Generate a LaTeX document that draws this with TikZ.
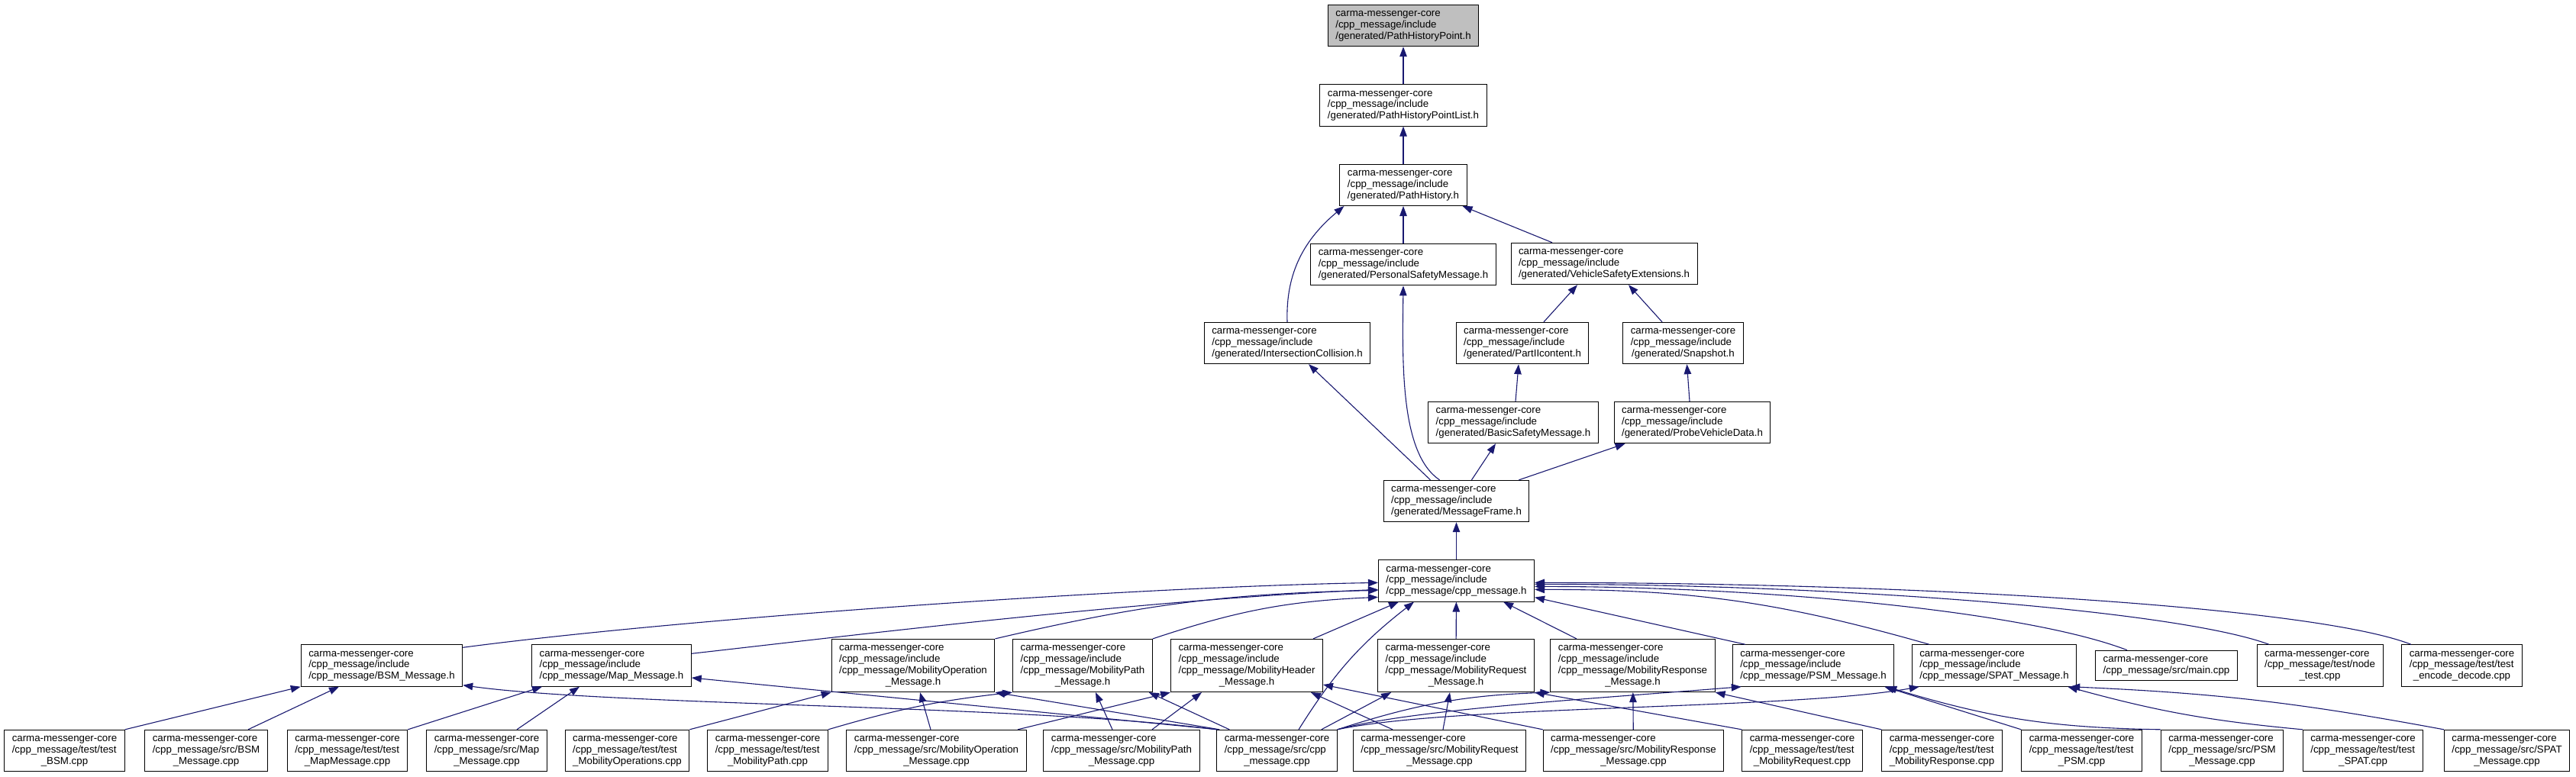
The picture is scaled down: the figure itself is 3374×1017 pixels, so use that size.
\documentclass[tikz,border=0pt]{standalone}
\usepackage{fontspec}
\setmainfont{Liberation Sans}
\usepackage{tikz}
\usetikzlibrary{arrows.meta,positioning}
\definecolor{doxyblue}{HTML}{191970}
\definecolor{doxygray}{HTML}{BFBFBF}
\newcommand{\cmc}{carma-messenger-core}
\newcommand{\fpath}[2]{\begin{tabular}{@{}l@{}}#1\\\multicolumn{1}{@{}c@{}}{#2}\end{tabular}}

\begin{document}
\begin{tikzpicture}[
  x=1pt,y=1pt,
  node distance=49pt,
  box/.style={draw=black,line width=1pt,fill=white,inner xsep=10pt,inner ysep=5pt,
              font=\fontsize{13.3}{14.8}\selectfont},
  current/.style={box,fill=doxygray},
  inc/.style={line width=1.1pt,doxyblue,-{Triangle[length=13pt,width=9.5pt]}}
]
  \useasboundingbox (0,0) rectangle (3374,-1017);

  \node[current] (hp) at (1838,-33.5) {\fpath{\cmc\\/cpp\_message/include}{/generated/PathHistoryPoint.h}};
  \node[box,below=of hp] (hpl) {\fpath{\cmc\\/cpp\_message/include}{/generated/PathHistoryPointList.h}};
  \node[box,below=of hpl] (ph) {\fpath{\cmc\\/cpp\_message/include}{/generated/PathHistory.h}};
  \node[box,below=of ph] (psm) {\fpath{\cmc\\/cpp\_message/include}{/generated/PersonalSafetyMessage.h}};
  \node[box] (vse) at (2101,-345.5) {\fpath{\cmc\\/cpp\_message/include}{/generated/VehicleSafetyExtensions.h}};
  \node[box] (ic) at (1686,-449.5) {\fpath{\cmc\\/cpp\_message/include}{/generated/IntersectionCollision.h}};
  \node[box] (pii) at (1994,-449.5) {\fpath{\cmc\\/cpp\_message/include}{/generated/PartIIcontent.h}};
  \node[box] (snap) at (2204.5,-449.5) {\fpath{\cmc\\/cpp\_message/include}{/generated/Snapshot.h}};
  \node[box] (bsafe) at (1982,-553.5) {\fpath{\cmc\\/cpp\_message/include}{/generated/BasicSafetyMessage.h}};
  \node[box] (pvd) at (2216.5,-553.5) {\fpath{\cmc\\/cpp\_message/include}{/generated/ProbeVehicleData.h}};
  \node[box] (mf) at (1907.5,-656.5) {\fpath{\cmc\\/cpp\_message/include}{/generated/MessageFrame.h}};
  \node[box,below=of mf] (cpph) {\fpath{\cmc\\/cpp\_message/include}{/cpp\_message/cpp\_message.h}};

  \node[box] (bsmh) at (500,-872) {\fpath{\cmc\\/cpp\_message/include}{/cpp\_message/BSM\_Message.h}};
  \node[box] (maph) at (801,-872) {\fpath{\cmc\\/cpp\_message/include}{/cpp\_message/Map\_Message.h}};
  \node[box] (moh) at (1196,-872) {\fpath{\cmc\\/cpp\_message/include\\/cpp\_message/MobilityOperation}{\_Message.h}};
  \node[box] (mph) at (1418,-872) {\fpath{\cmc\\/cpp\_message/include\\/cpp\_message/MobilityPath}{\_Message.h}};
  \node[box] (mhh) at (1633,-872) {\fpath{\cmc\\/cpp\_message/include\\/cpp\_message/MobilityHeader}{\_Message.h}};
  \node[box] (mreqh) at (1907,-872) {\fpath{\cmc\\/cpp\_message/include\\/cpp\_message/MobilityRequest}{\_Message.h}};
  \node[box] (mresh) at (2138.5,-872) {\fpath{\cmc\\/cpp\_message/include\\/cpp\_message/MobilityResponse}{\_Message.h}};
  \node[box] (psmh) at (2375,-872) {\fpath{\cmc\\/cpp\_message/include}{/cpp\_message/PSM\_Message.h}};
  \node[box] (spath) at (2612,-872) {\fpath{\cmc\\/cpp\_message/include}{/cpp\_message/SPAT\_Message.h}};
  \node[box] (mainc) at (2837.5,-872) {\fpath{\cmc}{/cpp\_message/src/main.cpp}};
  \node[box] (ntest) at (3038.5,-872) {\fpath{\cmc\\/cpp\_message/test/node}{\_test.cpp}};
  \node[box] (tenc) at (3224.5,-872) {\fpath{\cmc\\/cpp\_message/test/test}{\_encode\_decode.cpp}};

  \node[box] (tbsm) at (84.5,-983.5) {\fpath{\cmc\\/cpp\_message/test/test}{\_BSM.cpp}};
  \node[box] (bsmc) at (270,-983.5) {\fpath{\cmc\\/cpp\_message/src/BSM}{\_Message.cpp}};
  \node[box] (tmap) at (455,-983.5) {\fpath{\cmc\\/cpp\_message/test/test}{\_MapMessage.cpp}};
  \node[box] (mapc) at (637.5,-983.5) {\fpath{\cmc\\/cpp\_message/src/Map}{\_Message.cpp}};
  \node[box] (tmo) at (821.5,-983.5) {\fpath{\cmc\\/cpp\_message/test/test}{\_MobilityOperations.cpp}};
  \node[box] (tmp) at (1005.5,-983.5) {\fpath{\cmc\\/cpp\_message/test/test}{\_MobilityPath.cpp}};
  \node[box] (moc) at (1226.5,-983.5) {\fpath{\cmc\\/cpp\_message/src/MobilityOperation}{\_Message.cpp}};
  \node[box] (mpc) at (1469,-983.5) {\fpath{\cmc\\/cpp\_message/src/MobilityPath}{\_Message.cpp}};
  \node[box] (cppc) at (1672.5,-983.5) {\fpath{\cmc\\/cpp\_message/src/cpp}{\_message.cpp}};
  \node[box] (mreqc) at (1885.5,-983.5) {\fpath{\cmc\\/cpp\_message/src/MobilityRequest}{\_Message.cpp}};
  \node[box] (mresc) at (2139.5,-983.5) {\fpath{\cmc\\/cpp\_message/src/MobilityResponse}{\_Message.cpp}};
  \node[box] (tmreq) at (2360.5,-983.5) {\fpath{\cmc\\/cpp\_message/test/test}{\_MobilityRequest.cpp}};
  \node[box] (tmres) at (2543.5,-983.5) {\fpath{\cmc\\/cpp\_message/test/test}{\_MobilityResponse.cpp}};
  \node[box] (tpsm) at (2726.5,-983.5) {\fpath{\cmc\\/cpp\_message/test/test}{\_PSM.cpp}};
  \node[box] (psmc) at (2910.5,-983.5) {\fpath{\cmc\\/cpp\_message/src/PSM}{\_Message.cpp}};
  \node[box] (tspat) at (3095,-983.5) {\fpath{\cmc\\/cpp\_message/test/test}{\_SPAT.cpp}};
  \node[box] (spatc) at (3283.5,-983.5) {\fpath{\cmc\\/cpp\_message/src/SPAT}{\_Message.cpp}};

  \draw[inc] (hpl) -- (hp);
  \draw[inc] (ph) -- (hpl);
  \draw[inc] (psm) -- (ph);
  \draw[inc] ([xshift=-68pt]vse.north) -- ([xshift=-6pt]ph.south east);
  \draw[inc] (ic.north) to[out=92,in=220] ([xshift=6pt]ph.south west);
  \draw[inc] ([xshift=28pt]pii.north) -- ([xshift=-35pt]vse.south);
  \draw[inc] ([xshift=-27.5pt]snap.north) -- ([xshift=32pt]vse.south);
  \draw[inc] ([xshift=3pt]bsafe.north) -- ([xshift=-5pt]pii.south);
  \draw[inc] ([xshift=-3.5pt]pvd.north) -- ([xshift=5pt]snap.south);
  \draw[inc] ([xshift=-34pt]mf.north) -- ([xshift=28pt]ic.south);
  \draw[inc] ([xshift=-22pt]mf.north) .. controls +(-50.5,34) and +(-1.5,-107) .. (psm.south);
  \draw[inc] ([xshift=20pt]mf.north) -- ([xshift=-23pt]bsafe.south);
  \draw[inc] ([xshift=-14pt]mf.north east) -- ([xshift=15pt]pvd.south west);
  \draw[inc] (cpph) -- (mf);

  \draw[inc] ([yshift=-4pt]bsmh.north east) .. controls +(294,39) and +(-306,-5) .. ([yshift=-2.5pt]cpph.west);
  \draw[inc] ([yshift=-12pt]maph.north east) .. controls +(196,22) and +(-306,-13) .. ([yshift=-11.5pt]cpph.west);
  \draw[inc] (moh.north east) to[bend left=6] ([yshift=-12.5pt]cpph.west);
  \draw[inc] (mph.north east) to[bend left=8] ([yshift=-21.5pt]cpph.west);
  \draw[inc] ([xshift=-13pt]mhh.north east) -- ([xshift=27pt]cpph.south west);
  \draw[inc] ([xshift=28.5pt]cppc.north) to[bend left=10] ([xshift=47pt]cpph.south west);
  \draw[inc] (mreqh) -- (cpph);
  \draw[inc] ([xshift=-73.5pt]mresh.north) -- ([xshift=-41pt]cpph.south east);
  \draw[inc] ([xshift=-89pt]psmh.north) -- ([yshift=6pt]cpph.south east);
  \draw[inc] ([xshift=-85pt]spath.north) to[bend right=8] ([yshift=-11.5pt]cpph.east);
  \draw[inc] ([xshift=-51.5pt]mainc.north) .. controls +(-136,52) and +(291,0) .. ([yshift=-7.5pt]cpph.east);
  \draw[inc] ([xshift=-66.5pt]ntest.north) .. controls +(-122,45) and +(391,0) .. ([yshift=-4.5pt]cpph.east);
  \draw[inc] ([xshift=-66.5pt]tenc.north) .. controls +(-128,50) and +(491,0) .. ([yshift=-2.5pt]cpph.east);

  \draw[inc] (tbsm.north east) -- (bsmh.south west);
  \draw[inc] ([xshift=55pt]bsmc.north) -- ([xshift=-56pt]bsmh.south);
  \draw[inc] (tmap.north east) -- ([xshift=-91pt]maph.south);
  \draw[inc] ([xshift=39.5pt]mapc.north) -- ([xshift=-42pt]maph.south);
  \draw[inc] (cppc.north west) .. controls +(-245,32) and +(195,-27) .. ([yshift=2pt]bsmh.south east);
  \draw[inc] ([xshift=2pt]cppc.north west) -- ([yshift=-16pt]maph.east);
  \draw[inc] ([xshift=4pt]cppc.north west) -- (moh.south east);
  \draw[inc] ([xshift=17pt]cppc.north west) -- ([xshift=-5pt]mph.south east);
  \draw[inc] (tmo.north east) -- (moh.south west);
  \draw[inc] (tmp.north east) to[bend left=5] (mph.south west);
  \draw[inc] ([xshift=-7.5pt]moc.north) -- ([xshift=9pt]moh.south);
  \draw[inc] ([xshift=-11.5pt]moc.north east) -- (mhh.south west);
  \draw[inc] ([xshift=-12pt]mpc.north) -- ([xshift=17pt]mph.south);
  \draw[inc] ([xshift=40pt]mpc.north) -- ([xshift=-59pt]mhh.south);
  \draw[inc] ([xshift=-21pt]cppc.north east) -- ([xshift=18pt]mreqh.south west);
  \draw[inc] (cppc.north east) to[bend left=8] (mresh.south west);
  \draw[inc] (cppc.north east) .. controls +(100,27) and +(-182,-15) .. ([xshift=12pt]psmh.south west);
  \draw[inc] (cppc.north east) .. controls +(150,32) and +(-164,-30) .. ([xshift=10pt]spath.south west);
  \draw[inc] ([xshift=-61.5pt]mreqc.north) -- ([xshift=-16pt]mhh.south east);
  \draw[inc] ([xshift=4.5pt]mreqc.north) -- ([xshift=-8pt]mreqh.south);
  \draw[inc] (mresc.north west) -- ([yshift=-25pt]mhh.east);
  \draw[inc] (mresc) -- (mresh);
  \draw[inc] (tmreq.north west) -- (mreqh.south east);
  \draw[inc] (tmres.north west) -- (mresh.south east);
  \draw[inc] (tpsm.north west) -- ([xshift=-13pt]psmh.south east);
  \draw[inc] (psmc.north west) to[bend left=8] ([xshift=-10pt]psmh.south east);
  \draw[inc] (tspat.north west) to[bend left=5] ([xshift=-12pt]spath.south east);
  \draw[inc] (spatc.north west) to[bend right=4] ([xshift=-9pt]spath.south east);
\end{tikzpicture}
\end{document}
